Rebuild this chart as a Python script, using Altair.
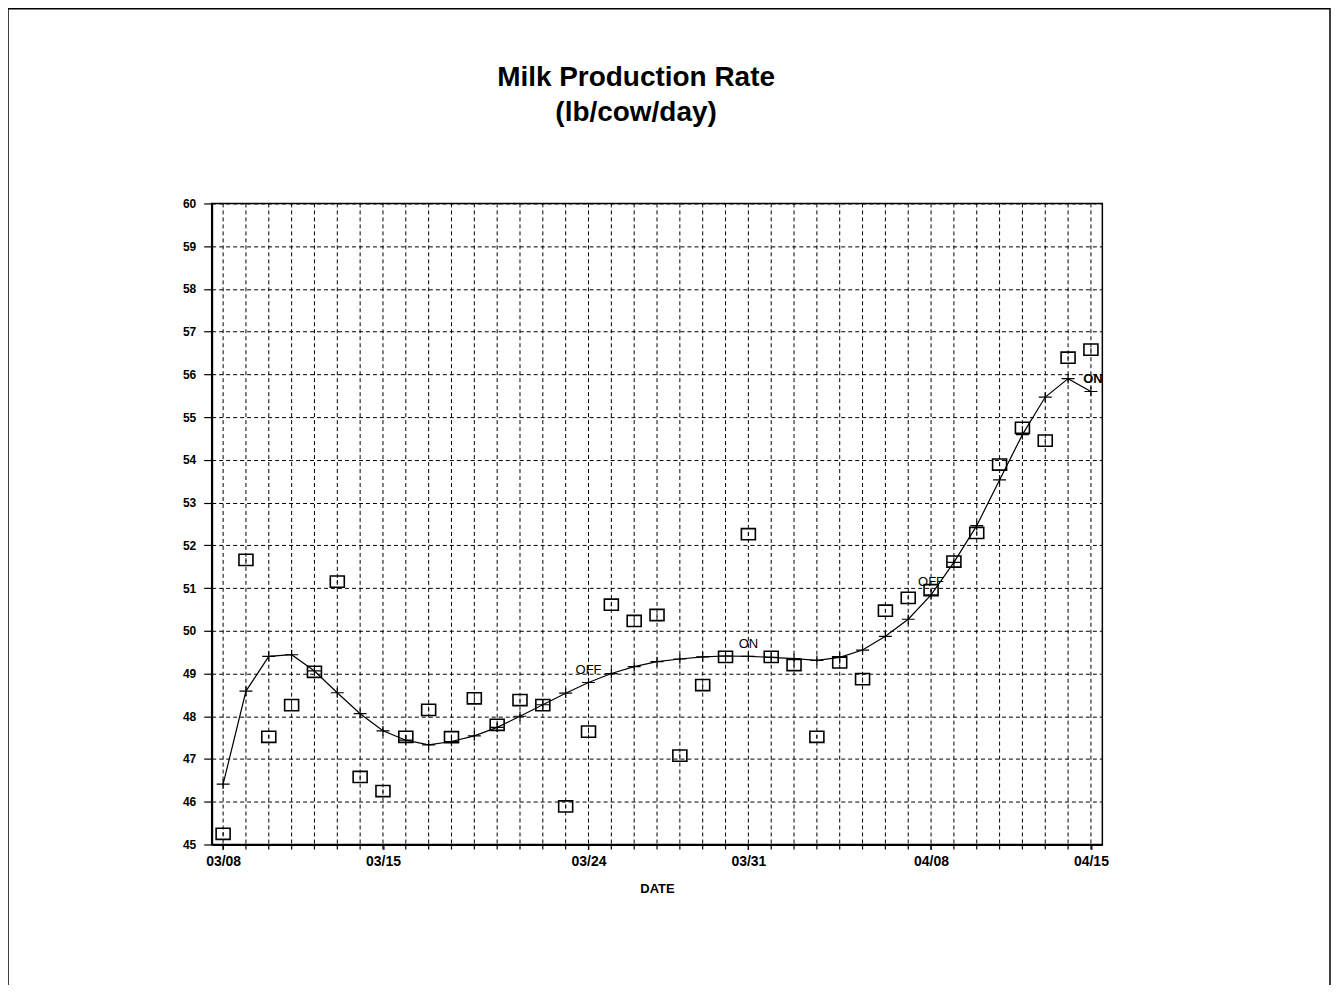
import altair as alt
import pandas as pd

# ---- data ----
dates = pd.date_range("1996-03-08", "1996-04-15", freq="D").strftime("%Y-%m-%d").tolist()

observed = [45.25, 51.66, 47.52, 48.26, 49.04, 51.15, 46.58, 46.25, 47.52, 48.15,
            47.51, 48.42, 47.80, 48.38, 48.26, 45.89, 47.64, 50.61, 50.23, 50.37,
            47.08, 48.73, 49.39, 52.26, 49.39, 49.20, 47.52, 49.26, 48.87, 50.47,
            50.77, 50.95, 51.62, 52.29, 53.89, 54.75, 54.45, 56.39, 56.58]

fitted = [46.41, 48.59, 49.40, 49.44, 49.06, 48.55, 48.06, 47.66, 47.44, 47.33,
          47.41, 47.54, 47.74, 48.00, 48.27, 48.54, 48.79, 49.00, 49.16, 49.28,
          49.34, 49.39, 49.41, 49.40, 49.38, 49.35, 49.31, 49.38, 49.55, 49.87,
          50.27, 50.84, 51.60, 52.46, 53.53, 54.59, 55.47, 55.90, 55.60]

# labelled ticks: 03/08, 03/15, 03/24, 03/31, 04/08, 04/15
label_dates = ["1996-03-08", "1996-03-15", "1996-03-24", "1996-03-31",
               "1996-04-08", "1996-04-15"]
y_ticks = list(range(45, 61))

note_text = ["OFF", "ON", "OFF", "ON"]
note_date = ["1996-03-24", "1996-03-31", "1996-04-08", "1996-04-15"]
note_value = [49.09, 49.68, 51.14, 55.89]
note_weight = ["normal", "normal", "normal", "bold"]

title_lines = ["Milk Production Rate", "(lb/cow/day)"]

df = pd.DataFrame({"date": dates, "observed": observed, "fitted": fitted})
notes = pd.DataFrame({"date": note_date, "value": note_value, "text": note_text,
                      "weight": note_weight})

FONT = "Liberation Sans"
W, H = 892, 642


def dt(s, hours=0):
    y, m, d = (int(p) for p in s.split("-"))
    return alt.DateTime(year=y, month=m, date=d, hours=hours, utc=True)


x_scale = alt.Scale(type="utc", domain=[dt("1996-03-07", 12), dt("1996-04-15", 12)])

x_enc = alt.X(
    "date:T",
    scale=x_scale,
    axis=alt.Axis(
        values=[dt(d) for d in label_dates],
        format="%m/%d",
        labelOverlap=False,
        labelFlush=False,
        grid=False,
        title="DATE",
        tickSize=5,
        labelPadding=5,
        titlePadding=14,
    ),
)
y_scale = alt.Scale(domain=[45, 60], nice=False, zero=False)
y_axis = alt.Axis(values=y_ticks, format="d", title=None, tickSize=8, labelPadding=8,
                  grid=True)

base = alt.Chart(df)

# daily vertical grid lines and daily ticks under the x axis
vgrid = base.mark_rule(color="black", strokeWidth=1, strokeDash=[4, 3]).encode(
    x=x_enc, y=alt.value(0), y2=alt.value(H)
)
vticks = base.mark_rule(color="black", strokeWidth=1.2).encode(
    x="date:T", y=alt.value(H), y2=alt.value(H + 5)
)

line = base.mark_line(color="black", strokeWidth=1.2).encode(
    x="date:T", y=alt.Y("fitted:Q", scale=y_scale, axis=y_axis)
)

plus_path = "M-1,0L1,0M0,-0.75L0,0.75"
plus = base.mark_point(shape=plus_path, size=169, filled=False, color="black",
                       strokeWidth=1.2, opacity=1).encode(
    x="date:T", y="fitted:Q"
)

rect_path = "M-1,-0.8L1,-0.8L1,0.8L-1,0.8Z"
squares = base.mark_point(shape=rect_path, size=196, filled=False, color="black",
                          strokeWidth=1.6, opacity=1).encode(
    x="date:T", y="observed:Q"
)
dots = base.mark_point(shape="M0,-1L0,1", size=12, filled=False, color="black",
                       strokeWidth=1, opacity=1).encode(
    x="date:T", y="observed:Q"
)

labels_normal = alt.Chart(notes).transform_filter(
    alt.datum.weight == "normal"
).mark_text(font=FONT, fontSize=13, color="black").encode(
    x="date:T", y="value:Q", text="text:N"
)
labels_bold = alt.Chart(notes).transform_filter(
    alt.datum.weight == "bold"
).mark_text(font=FONT, fontSize=13, fontWeight="bold", color="black", dx=2).encode(
    x="date:T", y="value:Q", text="text:N"
)

title1 = alt.Chart(pd.DataFrame({"t": [title_lines[0]]})).mark_text(
    font=FONT, fontSize=28, fontWeight="bold", color="black",
    align="center", baseline="alphabetic"
).encode(x=alt.value(425), y=alt.value(-118), text="t:N")
title2 = alt.Chart(pd.DataFrame({"t": [title_lines[1]]})).mark_text(
    font=FONT, fontSize=28, fontWeight="bold", color="black",
    align="center", baseline="alphabetic"
).encode(x=alt.value(425), y=alt.value(-83), text="t:N")

border = alt.Chart(pd.DataFrame({"k": [0]})).mark_rect(
    filled=False, stroke="black", strokeWidth=1.5
).encode(
    x=alt.value(-204), x2=alt.value(1120), y=alt.value(-195), y2=alt.value(900)
)

chart = alt.layer(
    border, vgrid, vticks, line, plus, squares, dots,
    labels_normal, labels_bold, title1, title2
).properties(
    width=W,
    height=H,
    padding={"left": 204, "top": 195, "right": 230, "bottom": 140},
    autosize=alt.AutoSizeParams(type="none"),
).configure_view(
    stroke="black", strokeWidth=1.5
).configure_axis(
    domainColor="black", domainWidth=2, tickColor="black", tickWidth=1.2,
    gridColor="black", gridDash=[4, 3], gridWidth=1, gridOpacity=1,
    labelFont=FONT, labelFontWeight="bold", labelColor="black",
    titleFont=FONT, titleFontWeight="bold", titleColor="black",
).configure_axisX(
    labelFontSize=14, titleFontSize=13
).configure_axisY(
    labelFontSize=12
)

chart.save("out.html", embed_options={"renderer": "svg", "actions": False})
